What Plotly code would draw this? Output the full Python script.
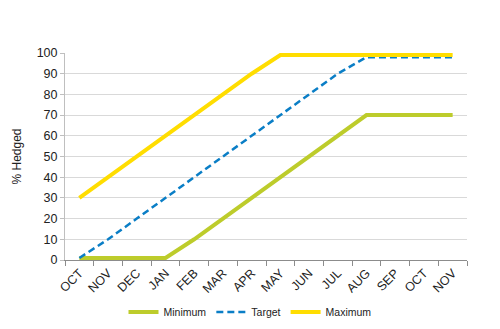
import plotly.graph_objects as go

months = ["OCT", "NOV", "DEC", "JAN", "FEB", "MAR", "APR", "MAY", "JUN", "JUL", "AUG", "SEP", "OCT", "NOV"]
minimum = [1, 1, 1, 1, 10, 20, 30, 40, 50, 60, 70, 70, 70, 70]
target = [1, 10, 20, 30, 40, 50, 60, 70, 80, 90, 98, 98, 98, 98]
maximum = [30, 40, 50, 60, 70, 80, 90, 99, 99, 99, 99, 99, 99, 99]
yticks = list(range(0, 101, 10))

x = list(range(len(months)))

fig = go.Figure()
fig.add_trace(go.Scatter(x=x, y=minimum, name="Minimum", mode="lines",
                         line=dict(color="#BDCC2B", width=4), cliponaxis=False))
fig.add_trace(go.Scatter(x=x, y=target, name="Target", mode="lines",
                         line=dict(color="#0A7EC6", width=2.5, dash="7px,4px"), cliponaxis=False))
fig.add_trace(go.Scatter(x=x, y=maximum, name="Maximum", mode="lines",
                         line=dict(color="#FFDD00", width=4), cliponaxis=False))

fig.update_layout(
    width=500, height=329,
    margin=dict(l=65, r=33, t=53, b=69, autoexpand=False),
    plot_bgcolor="white", paper_bgcolor="white",
    font=dict(family="Liberation Sans, Arial, sans-serif", color="#222222"),
    showlegend=True,
    legend=dict(orientation="h", x=0.5, xanchor="center", xref="container",
                y=0.052, yanchor="middle", yref="container",
                font=dict(size=10.5), itemwidth=30, tracegroupgap=0),
    xaxis=dict(
        range=[-0.5, len(months) - 0.5], automargin=False,
        tickvals=x, ticktext=months, tickangle=-45,
        ticks="", showgrid=False, zeroline=False,
        showline=True, linecolor="#8C8C8C", linewidth=1,
        tickfont=dict(size=12.5),
        minor=dict(tick0=-0.5, dtick=1, ticks="outside", ticklen=5, tickcolor="#8C8C8C", showgrid=False),
    ),
    yaxis=dict(
        range=[0, 100], tickvals=yticks, automargin=False,
        showgrid=True, gridcolor="#D9D9D9", gridwidth=1,
        zeroline=False, showline=True, linecolor="#BFBFBF", linewidth=1,
        ticks="outside", ticklen=4, tickcolor="#BFBFBF",
        tickfont=dict(size=12.5),
        title=dict(text="% Hedged", font=dict(size=12), standoff=12),
    ),
)

fig.write_html("out.html")
